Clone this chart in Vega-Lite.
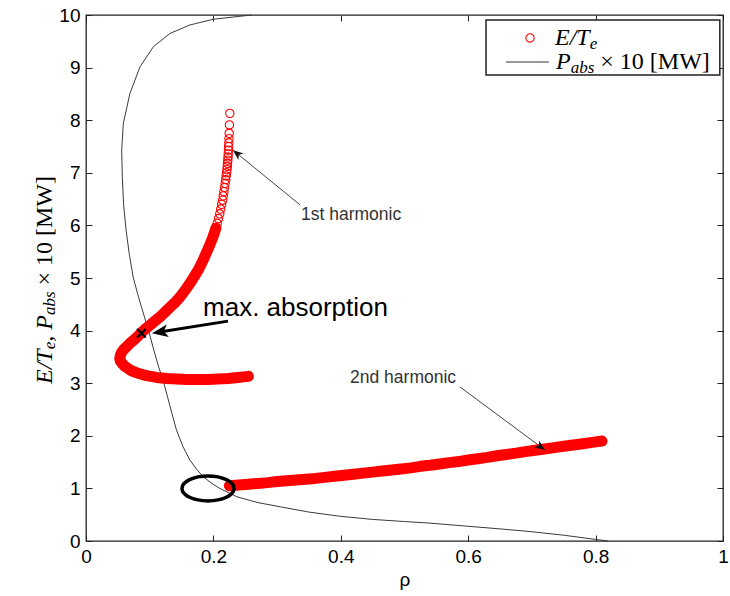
{
  "$schema": "https://vega.github.io/schema/vega-lite/v6.json",
  "width": 637,
  "height": 526,
  "autosize": "none",
  "padding": {"left": 86, "top": 15, "right": 7, "bottom": 55},
  "background": "white",
  "config": {
    "view": {"stroke": "#222", "strokeWidth": 1.3},
    "axis": {
      "grid": false,
      "domain": false,
      "ticks": true,
      "tickSize": -6,
      "tickColor": "#222",
      "tickWidth": 1,
      "labelFont": "Liberation Sans",
      "labelFontSize": 19,
      "labelColor": "#000",
      "labelPadding": 12,
      "labelFlush": false,
      "titleFont": "Liberation Sans",
      "titleFontWeight": "normal",
      "titleFontSize": 19,
      "titleColor": "#000"
    }
  },
  "datasets": {
    "curve": [
      {"i": 0, "r": 0.26, "e": 10.0},
      {"i": 1, "r": 0.2, "e": 9.92},
      {"i": 2, "r": 0.163, "e": 9.81},
      {"i": 3, "r": 0.132, "e": 9.65},
      {"i": 4, "r": 0.106, "e": 9.4},
      {"i": 5, "r": 0.085, "e": 9.02},
      {"i": 6, "r": 0.069, "e": 8.51},
      {"i": 7, "r": 0.0586, "e": 7.94},
      {"i": 8, "r": 0.056, "e": 7.43},
      {"i": 9, "r": 0.057, "e": 6.93},
      {"i": 10, "r": 0.059, "e": 6.4},
      {"i": 11, "r": 0.063, "e": 5.9},
      {"i": 12, "r": 0.068, "e": 5.45},
      {"i": 13, "r": 0.074, "e": 5.02},
      {"i": 14, "r": 0.081, "e": 4.7},
      {"i": 15, "r": 0.087, "e": 4.45},
      {"i": 16, "r": 0.098, "e": 4.01},
      {"i": 17, "r": 0.106, "e": 3.65},
      {"i": 18, "r": 0.114, "e": 3.31},
      {"i": 19, "r": 0.121, "e": 3.06},
      {"i": 20, "r": 0.128, "e": 2.74},
      {"i": 21, "r": 0.135, "e": 2.42},
      {"i": 22, "r": 0.142, "e": 2.11},
      {"i": 23, "r": 0.152, "e": 1.8},
      {"i": 24, "r": 0.163, "e": 1.54},
      {"i": 25, "r": 0.174, "e": 1.36},
      {"i": 26, "r": 0.184, "e": 1.22},
      {"i": 27, "r": 0.197, "e": 1.1},
      {"i": 28, "r": 0.21, "e": 1.0},
      {"i": 29, "r": 0.237, "e": 0.84},
      {"i": 30, "r": 0.27, "e": 0.73},
      {"i": 31, "r": 0.305, "e": 0.65},
      {"i": 32, "r": 0.35, "e": 0.55},
      {"i": 33, "r": 0.399, "e": 0.47},
      {"i": 34, "r": 0.45, "e": 0.41},
      {"i": 35, "r": 0.5, "e": 0.37},
      {"i": 36, "r": 0.54, "e": 0.34},
      {"i": 37, "r": 0.6, "e": 0.28},
      {"i": 38, "r": 0.65, "e": 0.23},
      {"i": 39, "r": 0.697, "e": 0.18},
      {"i": 40, "r": 0.75, "e": 0.11},
      {"i": 41, "r": 0.8, "e": 0.03},
      {"i": 42, "r": 0.82, "e": 0.0}
    ],
    "red": [
      {"b": "h1", "i": 0, "r": 0.255, "e": 3.13},
      {"b": "h1", "i": 1, "r": 0.247, "e": 3.12},
      {"b": "h1", "i": 2, "r": 0.239, "e": 3.11},
      {"b": "h1", "i": 3, "r": 0.231, "e": 3.1},
      {"b": "h1", "i": 4, "r": 0.223, "e": 3.09},
      {"b": "h1", "i": 5, "r": 0.215, "e": 3.085},
      {"b": "h1", "i": 6, "r": 0.207, "e": 3.08},
      {"b": "h1", "i": 7, "r": 0.199, "e": 3.075},
      {"b": "h1", "i": 8, "r": 0.191, "e": 3.07},
      {"b": "h1", "i": 9, "r": 0.183, "e": 3.07},
      {"b": "h1", "i": 10, "r": 0.175, "e": 3.07},
      {"b": "h1", "i": 11, "r": 0.167, "e": 3.07},
      {"b": "h1", "i": 12, "r": 0.159, "e": 3.07},
      {"b": "h1", "i": 13, "r": 0.151, "e": 3.075},
      {"b": "h1", "i": 14, "r": 0.143, "e": 3.08},
      {"b": "h1", "i": 15, "r": 0.135, "e": 3.085},
      {"b": "h1", "i": 16, "r": 0.127, "e": 3.09},
      {"b": "h1", "i": 17, "r": 0.119, "e": 3.1},
      {"b": "h1", "i": 18, "r": 0.111, "e": 3.11},
      {"b": "h1", "i": 19, "r": 0.104, "e": 3.125},
      {"b": "h1", "i": 20, "r": 0.097, "e": 3.14},
      {"b": "h1", "i": 21, "r": 0.09, "e": 3.16},
      {"b": "h1", "i": 22, "r": 0.083, "e": 3.185},
      {"b": "h1", "i": 23, "r": 0.077, "e": 3.21},
      {"b": "h1", "i": 24, "r": 0.071, "e": 3.24},
      {"b": "h1", "i": 25, "r": 0.066, "e": 3.28},
      {"b": "h1", "i": 26, "r": 0.061, "e": 3.32},
      {"b": "h1", "i": 27, "r": 0.057, "e": 3.37},
      {"b": "h1", "i": 28, "r": 0.054, "e": 3.42},
      {"b": "h1", "i": 29, "r": 0.053, "e": 3.47},
      {"b": "h1", "i": 30, "r": 0.054, "e": 3.53},
      {"b": "h1", "i": 31, "r": 0.056, "e": 3.59},
      {"b": "h1", "i": 32, "r": 0.06, "e": 3.65},
      {"b": "h1", "i": 33, "r": 0.065, "e": 3.71},
      {"b": "h1", "i": 34, "r": 0.07, "e": 3.77},
      {"b": "h1", "i": 35, "r": 0.076, "e": 3.83},
      {"b": "h1", "i": 36, "r": 0.082, "e": 3.9},
      {"b": "h1", "i": 37, "r": 0.087, "e": 3.96},
      {"b": "h1", "i": 38, "r": 0.093, "e": 4.03},
      {"b": "h1", "i": 39, "r": 0.099, "e": 4.09},
      {"b": "h1", "i": 40, "r": 0.105, "e": 4.15},
      {"b": "h1", "i": 41, "r": 0.111, "e": 4.21},
      {"b": "h1", "i": 42, "r": 0.117, "e": 4.27},
      {"b": "h1", "i": 43, "r": 0.123, "e": 4.34},
      {"b": "h1", "i": 44, "r": 0.129, "e": 4.41},
      {"b": "h1", "i": 45, "r": 0.135, "e": 4.48},
      {"b": "h1", "i": 46, "r": 0.141, "e": 4.55},
      {"b": "h1", "i": 47, "r": 0.147, "e": 4.63},
      {"b": "h1", "i": 48, "r": 0.152, "e": 4.71},
      {"b": "h1", "i": 49, "r": 0.157, "e": 4.79},
      {"b": "h1", "i": 50, "r": 0.162, "e": 4.88},
      {"b": "h1", "i": 51, "r": 0.167, "e": 4.97},
      {"b": "h1", "i": 52, "r": 0.172, "e": 5.07},
      {"b": "h1", "i": 53, "r": 0.177, "e": 5.17},
      {"b": "h1", "i": 54, "r": 0.181, "e": 5.27},
      {"b": "h1", "i": 55, "r": 0.185, "e": 5.37},
      {"b": "h1", "i": 56, "r": 0.189, "e": 5.48},
      {"b": "h1", "i": 57, "r": 0.193, "e": 5.59},
      {"b": "h1", "i": 58, "r": 0.196, "e": 5.68},
      {"b": "h1", "i": 59, "r": 0.199, "e": 5.77},
      {"b": "h1", "i": 60, "r": 0.2015, "e": 5.86},
      {"b": "h1", "i": 61, "r": 0.204, "e": 5.95},
      {"b": "h1", "i": 62, "r": 0.206, "e": 6.04},
      {"b": "h1", "i": 63, "r": 0.208, "e": 6.13},
      {"b": "h1", "i": 64, "r": 0.21, "e": 6.22},
      {"b": "h1", "i": 65, "r": 0.2115, "e": 6.31},
      {"b": "h1", "i": 66, "r": 0.213, "e": 6.4},
      {"b": "h1", "i": 67, "r": 0.2145, "e": 6.48},
      {"b": "h1", "i": 68, "r": 0.2155, "e": 6.56},
      {"b": "h1", "i": 69, "r": 0.2165, "e": 6.64},
      {"b": "h1", "i": 70, "r": 0.2175, "e": 6.72},
      {"b": "h1", "i": 71, "r": 0.2185, "e": 6.8},
      {"b": "h1", "i": 72, "r": 0.2193, "e": 6.87},
      {"b": "h1", "i": 73, "r": 0.22, "e": 6.94},
      {"b": "h1", "i": 74, "r": 0.2207, "e": 7.0},
      {"b": "h1", "i": 75, "r": 0.2213, "e": 7.06},
      {"b": "h1", "i": 76, "r": 0.2218, "e": 7.12},
      {"b": "h1", "i": 77, "r": 0.2222, "e": 7.18},
      {"b": "h1", "i": 78, "r": 0.2226, "e": 7.24},
      {"b": "h1", "i": 79, "r": 0.223, "e": 7.3},
      {"b": "h1", "i": 80, "r": 0.2233, "e": 7.36},
      {"b": "h1", "i": 81, "r": 0.2236, "e": 7.43},
      {"b": "h1", "i": 82, "r": 0.2239, "e": 7.5},
      {"b": "h1", "i": 83, "r": 0.2242, "e": 7.57},
      {"b": "h1", "i": 84, "r": 0.2245, "e": 7.65},
      {"b": "h1", "i": 85, "r": 0.2248, "e": 7.75},
      {"b": "h1", "i": 86, "r": 0.2252, "e": 7.91},
      {"b": "h1", "i": 87, "r": 0.2258, "e": 8.13},
      {"b": "h2", "i": 0, "r": 0.225, "e": 1.05},
      {"b": "h2", "i": 1, "r": 0.24, "e": 1.065},
      {"b": "h2", "i": 2, "r": 0.255, "e": 1.08},
      {"b": "h2", "i": 3, "r": 0.27, "e": 1.095},
      {"b": "h2", "i": 4, "r": 0.285, "e": 1.11},
      {"b": "h2", "i": 5, "r": 0.3, "e": 1.13},
      {"b": "h2", "i": 6, "r": 0.315, "e": 1.145},
      {"b": "h2", "i": 7, "r": 0.33, "e": 1.16},
      {"b": "h2", "i": 8, "r": 0.345, "e": 1.175},
      {"b": "h2", "i": 9, "r": 0.36, "e": 1.19},
      {"b": "h2", "i": 10, "r": 0.375, "e": 1.21},
      {"b": "h2", "i": 11, "r": 0.39, "e": 1.23},
      {"b": "h2", "i": 12, "r": 0.405, "e": 1.25},
      {"b": "h2", "i": 13, "r": 0.42, "e": 1.27},
      {"b": "h2", "i": 14, "r": 0.435, "e": 1.29},
      {"b": "h2", "i": 15, "r": 0.45, "e": 1.31},
      {"b": "h2", "i": 16, "r": 0.465, "e": 1.33},
      {"b": "h2", "i": 17, "r": 0.48, "e": 1.35},
      {"b": "h2", "i": 18, "r": 0.495, "e": 1.37},
      {"b": "h2", "i": 19, "r": 0.51, "e": 1.39},
      {"b": "h2", "i": 20, "r": 0.525, "e": 1.42},
      {"b": "h2", "i": 21, "r": 0.54, "e": 1.44},
      {"b": "h2", "i": 22, "r": 0.555, "e": 1.465},
      {"b": "h2", "i": 23, "r": 0.57, "e": 1.49},
      {"b": "h2", "i": 24, "r": 0.585, "e": 1.51},
      {"b": "h2", "i": 25, "r": 0.6, "e": 1.54},
      {"b": "h2", "i": 26, "r": 0.615, "e": 1.565},
      {"b": "h2", "i": 27, "r": 0.63, "e": 1.59},
      {"b": "h2", "i": 28, "r": 0.645, "e": 1.62},
      {"b": "h2", "i": 29, "r": 0.66, "e": 1.645},
      {"b": "h2", "i": 30, "r": 0.675, "e": 1.67},
      {"b": "h2", "i": 31, "r": 0.69, "e": 1.7},
      {"b": "h2", "i": 32, "r": 0.705, "e": 1.725},
      {"b": "h2", "i": 33, "r": 0.72, "e": 1.75},
      {"b": "h2", "i": 34, "r": 0.735, "e": 1.775},
      {"b": "h2", "i": 35, "r": 0.75, "e": 1.8},
      {"b": "h2", "i": 36, "r": 0.765, "e": 1.825},
      {"b": "h2", "i": 37, "r": 0.78, "e": 1.85},
      {"b": "h2", "i": 38, "r": 0.795, "e": 1.875},
      {"b": "h2", "i": 39, "r": 0.81, "e": 1.9}
    ],
    "arrows": [
      {"k": "h1", "x": 0.336, "y": 6.39, "x2": 0.2308, "y2": 7.43},
      {"k": "h2", "x": 0.587, "y": 2.93, "x2": 0.7206, "y2": 1.73},
      {"k": "max", "x": 0.2229, "y": 4.18, "x2": 0.113, "y2": 3.97}
    ],
    "heads": [
      {"k": "h1", "x": 0.2308, "y": 7.43},
      {"k": "h2", "x": 0.7206, "y": 1.73},
      {"k": "max", "x": 0.1036, "y": 3.95}
    ],
    "ann": [
      {"t": "1st harmonic", "x": 0.3375, "y": 6.2},
      {"t": "2nd harmonic", "x": 0.4145, "y": 3.1}
    ],
    "maxlab": [{"t": "max. absorption", "x": 0.1837, "y": 4.43}],
    "maxpt": [{"x": 0.087, "y": 3.95}],
    "ring": [{"x": 0.1915, "y": 1.0}],
    "lgbox": [{"x": 0.628, "x2": 0.995, "y": 8.859, "y2": 9.905}],
    "lgpt": [{"x": 0.697, "y": 9.563}],
    "lgline": [{"x": 0.6593, "x2": 0.7268, "y": 9.106}],
    "lg_big": [
      {"x": 0.7363, "y": 9.563, "t": "E/T"},
      {"x": 0.7378, "y": 9.106, "t": "P"}
    ],
    "lg_small": [
      {"x": 0.7907, "y": 9.449, "t": "e"},
      {"x": 0.7609, "y": 8.992, "t": "abs"}
    ],
    "lg_up": [{"x": 0.8074, "y": 9.106, "t": "× 10 [MW]"}],
    "yt_big": [
      {"x": -0.0644, "y": 2.985, "t": "E/T"},
      {"x": -0.0644, "y": 3.787, "t": ", P"}
    ],
    "yt_small": [
      {"x": -0.0562, "y": 3.645, "t": "e"},
      {"x": -0.0562, "y": 4.295, "t": "abs"}
    ],
    "yt_up": [{"x": -0.0644, "y": 4.857, "t": "× 10 [MW]"}]
  },
  "resolve": {"axis": {"x": "independent", "y": "independent"}},
  "layer": [
    {
      "data": {"name": "curve"},
      "mark": {"type": "line", "color": "#3a3a3a", "strokeWidth": 1},
      "encoding": {
        "x": {"field": "r", "type": "quantitative", "scale": {"domain": [0, 1]},
              "axis": {"orient": "bottom", "values": [0, 0.2, 0.4, 0.6, 0.8, 1], "format": "~g", "title": "ρ", "titlePadding": 4}},
        "y": {"field": "e", "type": "quantitative", "scale": {"domain": [0, 10]},
              "axis": {"orient": "left", "values": [0, 1, 2, 3, 4, 5, 6, 7, 8, 9, 10], "format": "d", "title": null}},
        "order": {"field": "i", "type": "quantitative"}
      }
    },
    {
      "data": {"name": "red"},
      "transform": [{"filter": "datum.b == 'h2' || datum.e < 6.0"}],
      "mark": {"type": "line", "color": "#ff0000", "strokeWidth": 11, "strokeCap": "round", "strokeJoin": "round"},
      "encoding": {
        "x": {"field": "r", "type": "quantitative", "scale": {"domain": [0, 1]}, "axis": null},
        "y": {"field": "e", "type": "quantitative", "scale": {"domain": [0, 10]}, "axis": null},
        "detail": {"field": "b"},
        "order": {"field": "i", "type": "quantitative"}
      }
    },
    {
      "data": {"name": "red"},
      "mark": {"type": "point", "shape": "circle", "filled": false, "color": "#ff0000", "opacity": 1, "size": 70, "strokeWidth": 1.1},
      "encoding": {
        "x": {"field": "r", "type": "quantitative", "scale": {"domain": [0, 1]}, "axis": null},
        "y": {"field": "e", "type": "quantitative", "scale": {"domain": [0, 10]}, "axis": null}
      }
    },
    {
      "data": {"name": "ring"},
      "mark": {"type": "point", "shape": "M-1,0C-1,-0.265 -0.552,-0.48 0,-0.48C0.552,-0.48 1,-0.265 1,0C1,0.265 0.552,0.48 0,0.48C-0.552,0.48 -1,0.265 -1,0Z", "filled": false, "color": "#000", "opacity": 1, "size": 2704, "strokeWidth": 3.5},
      "encoding": {
        "x": {"field": "x", "type": "quantitative", "scale": {"domain": [0, 1]}, "axis": null},
        "y": {"field": "y", "type": "quantitative", "scale": {"domain": [0, 10]}, "axis": null}
      }
    },
    {
      "data": {"name": "maxpt"},
      "mark": {"type": "point", "shape": "M-1,-1L1,1M-1,1L1,-1", "filled": false, "color": "#000", "opacity": 1, "size": 72, "strokeWidth": 2.2},
      "encoding": {
        "x": {"field": "x", "type": "quantitative", "scale": {"domain": [0, 1]}, "axis": null},
        "y": {"field": "y", "type": "quantitative", "scale": {"domain": [0, 10]}, "axis": null}
      }
    },
    {
      "data": {"name": "arrows"},
      "transform": [{"filter": "datum.k != 'max'"}],
      "mark": {"type": "rule", "color": "#444", "strokeWidth": 1},
      "encoding": {
        "x": {"field": "x", "type": "quantitative", "scale": {"domain": [0, 1]}, "axis": null},
        "y": {"field": "y", "type": "quantitative", "scale": {"domain": [0, 10]}, "axis": null},
        "x2": {"field": "x2"},
        "y2": {"field": "y2"}
      }
    },
    {
      "data": {"name": "arrows"},
      "transform": [{"filter": "datum.k == 'max'"}],
      "mark": {"type": "rule", "color": "#000", "strokeWidth": 3},
      "encoding": {
        "x": {"field": "x", "type": "quantitative", "scale": {"domain": [0, 1]}, "axis": null},
        "y": {"field": "y", "type": "quantitative", "scale": {"domain": [0, 10]}, "axis": null},
        "x2": {"field": "x2"},
        "y2": {"field": "y2"}
      }
    },
    {
      "data": {"name": "heads"},
      "transform": [{"filter": "datum.k == 'h1'"}],
      "mark": {"type": "point", "shape": "M0,0L-0.8,2L0,1.4L0.8,2Z", "filled": true, "color": "#111", "opacity": 1, "size": 110, "strokeWidth": 0, "angle": 309.4},
      "encoding": {
        "x": {"field": "x", "type": "quantitative", "scale": {"domain": [0, 1]}, "axis": null},
        "y": {"field": "y", "type": "quantitative", "scale": {"domain": [0, 10]}, "axis": null}
      }
    },
    {
      "data": {"name": "heads"},
      "transform": [{"filter": "datum.k == 'h2'"}],
      "mark": {"type": "point", "shape": "M0,0L-0.8,2L0,1.4L0.8,2Z", "filled": true, "color": "#111", "opacity": 1, "size": 110, "strokeWidth": 0, "angle": 126.5},
      "encoding": {
        "x": {"field": "x", "type": "quantitative", "scale": {"domain": [0, 1]}, "axis": null},
        "y": {"field": "y", "type": "quantitative", "scale": {"domain": [0, 10]}, "axis": null}
      }
    },
    {
      "data": {"name": "heads"},
      "transform": [{"filter": "datum.k == 'max'"}],
      "mark": {"type": "point", "shape": "M0,0L-0.8,2L0,1.5L0.8,2Z", "filled": true, "color": "#000", "opacity": 1, "size": 256, "strokeWidth": 0, "angle": 261},
      "encoding": {
        "x": {"field": "x", "type": "quantitative", "scale": {"domain": [0, 1]}, "axis": null},
        "y": {"field": "y", "type": "quantitative", "scale": {"domain": [0, 10]}, "axis": null}
      }
    },
    {
      "data": {"name": "ann"},
      "mark": {"type": "text", "align": "left", "baseline": "middle", "font": "Liberation Sans", "fontSize": 17.5, "color": "#333"},
      "encoding": {
        "x": {"field": "x", "type": "quantitative", "scale": {"domain": [0, 1]}, "axis": null},
        "y": {"field": "y", "type": "quantitative", "scale": {"domain": [0, 10]}, "axis": null},
        "text": {"field": "t"}
      }
    },
    {
      "data": {"name": "maxlab"},
      "mark": {"type": "text", "align": "left", "baseline": "middle", "font": "Liberation Sans", "fontSize": 26, "color": "#000"},
      "encoding": {
        "x": {"field": "x", "type": "quantitative", "scale": {"domain": [0, 1]}, "axis": null},
        "y": {"field": "y", "type": "quantitative", "scale": {"domain": [0, 10]}, "axis": null},
        "text": {"field": "t"}
      }
    },
    {
      "data": {"name": "lgbox"},
      "mark": {"type": "rect", "fill": "white", "stroke": "#222", "strokeWidth": 1.5},
      "encoding": {
        "x": {"field": "x", "type": "quantitative", "scale": {"domain": [0, 1]},
              "axis": {"orient": "top", "values": [0, 0.2, 0.4, 0.6, 0.8, 1], "labels": false, "title": null}},
        "x2": {"field": "x2"},
        "y": {"field": "y", "type": "quantitative", "scale": {"domain": [0, 10]},
              "axis": {"orient": "right", "values": [0, 1, 2, 3, 4, 5, 6, 7, 8, 9, 10], "labels": false, "title": null}},
        "y2": {"field": "y2"}
      }
    },
    {
      "data": {"name": "lgpt"},
      "mark": {"type": "point", "shape": "circle", "filled": false, "color": "#ff0000", "opacity": 1, "size": 70, "strokeWidth": 1.1},
      "encoding": {
        "x": {"field": "x", "type": "quantitative", "scale": {"domain": [0, 1]}, "axis": null},
        "y": {"field": "y", "type": "quantitative", "scale": {"domain": [0, 10]}, "axis": null}
      }
    },
    {
      "data": {"name": "lgline"},
      "mark": {"type": "rule", "color": "#333", "strokeWidth": 1},
      "encoding": {
        "x": {"field": "x", "type": "quantitative", "scale": {"domain": [0, 1]}, "axis": null},
        "x2": {"field": "x2"},
        "y": {"field": "y", "type": "quantitative", "scale": {"domain": [0, 10]}, "axis": null}
      }
    },
    {
      "data": {"name": "lg_big"},
      "mark": {"type": "text", "align": "left", "baseline": "middle", "font": "Liberation Serif", "fontStyle": "italic", "fontSize": 24, "color": "#000"},
      "encoding": {
        "x": {"field": "x", "type": "quantitative", "scale": {"domain": [0, 1]}, "axis": null},
        "y": {"field": "y", "type": "quantitative", "scale": {"domain": [0, 10]}, "axis": null},
        "text": {"field": "t"}
      }
    },
    {
      "data": {"name": "lg_small"},
      "mark": {"type": "text", "align": "left", "baseline": "middle", "font": "Liberation Serif", "fontStyle": "italic", "fontSize": 17, "color": "#000"},
      "encoding": {
        "x": {"field": "x", "type": "quantitative", "scale": {"domain": [0, 1]}, "axis": null},
        "y": {"field": "y", "type": "quantitative", "scale": {"domain": [0, 10]}, "axis": null},
        "text": {"field": "t"}
      }
    },
    {
      "data": {"name": "lg_up"},
      "mark": {"type": "text", "align": "left", "baseline": "middle", "font": "Liberation Serif", "fontSize": 24, "color": "#000"},
      "encoding": {
        "x": {"field": "x", "type": "quantitative", "scale": {"domain": [0, 1]}, "axis": null},
        "y": {"field": "y", "type": "quantitative", "scale": {"domain": [0, 10]}, "axis": null},
        "text": {"field": "t"}
      }
    },
    {
      "data": {"name": "yt_big"},
      "mark": {"type": "text", "align": "left", "baseline": "middle", "angle": 270, "font": "Liberation Serif", "fontStyle": "italic", "fontSize": 24, "color": "#000"},
      "encoding": {
        "x": {"field": "x", "type": "quantitative", "scale": {"domain": [0, 1]}, "axis": null},
        "y": {"field": "y", "type": "quantitative", "scale": {"domain": [0, 10]}, "axis": null},
        "text": {"field": "t"}
      }
    },
    {
      "data": {"name": "yt_small"},
      "mark": {"type": "text", "align": "left", "baseline": "middle", "angle": 270, "font": "Liberation Serif", "fontStyle": "italic", "fontSize": 17, "color": "#000"},
      "encoding": {
        "x": {"field": "x", "type": "quantitative", "scale": {"domain": [0, 1]}, "axis": null},
        "y": {"field": "y", "type": "quantitative", "scale": {"domain": [0, 10]}, "axis": null},
        "text": {"field": "t"}
      }
    },
    {
      "data": {"name": "yt_up"},
      "mark": {"type": "text", "align": "left", "baseline": "middle", "angle": 270, "font": "Liberation Serif", "fontSize": 24, "color": "#000"},
      "encoding": {
        "x": {"field": "x", "type": "quantitative", "scale": {"domain": [0, 1]}, "axis": null},
        "y": {"field": "y", "type": "quantitative", "scale": {"domain": [0, 10]}, "axis": null},
        "text": {"field": "t"}
      }
    }
  ]
}
